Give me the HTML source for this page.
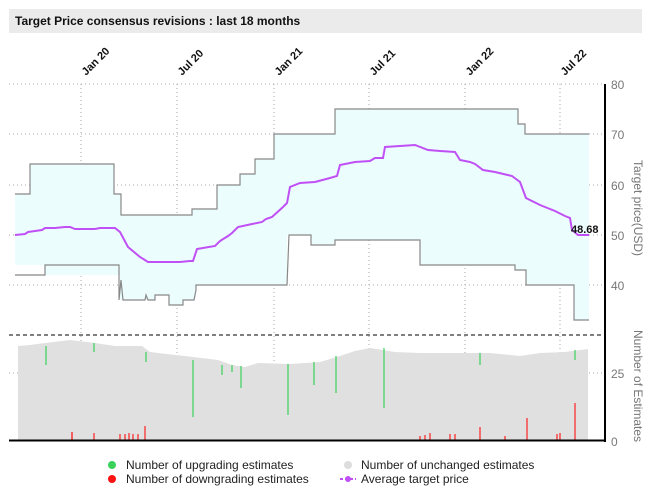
<!DOCTYPE html><html><head><style>body{margin:0;background:#fff;font-family:"Liberation Sans",sans-serif}</style></head><body>
<svg width="651" height="492" xmlns="http://www.w3.org/2000/svg" font-family="Liberation Sans, sans-serif">
<rect x="9" y="9" width="633" height="24" fill="#ebebeb"/>
<text x="15" y="25" font-size="12" font-weight="bold" fill="#111">Target Price consensus revisions : last 18 months</text>
<g stroke="#aaa" stroke-dasharray="1,3" stroke-width="1">
<line x1="9" x2="604" y1="84" y2="84"/><line x1="9" x2="604" y1="134" y2="134"/><line x1="9" x2="604" y1="185" y2="185"/><line x1="9" x2="604" y1="235" y2="235"/><line x1="9" x2="604" y1="285" y2="285"/><line x1="9" x2="604" y1="373" y2="373"/>
<line x1="81" x2="81" y1="84" y2="440"/><line x1="177" x2="177" y1="84" y2="440"/><line x1="274" x2="274" y1="84" y2="440"/><line x1="369" x2="369" y1="84" y2="440"/><line x1="465" x2="465" y1="84" y2="440"/><line x1="560" x2="560" y1="84" y2="440"/>
</g>
<g font-size="11" font-weight="bold" fill="#111">
<text transform="translate(86,76) rotate(-45)">Jan 20</text>
<text transform="translate(182,76) rotate(-45)">Jul 20</text>
<text transform="translate(279,76) rotate(-45)">Jan 21</text>
<text transform="translate(374,76) rotate(-45)">Jul 21</text>
<text transform="translate(470,76) rotate(-45)">Jan 22</text>
<text transform="translate(565,76) rotate(-45)">Jul 22</text>
</g>
<polygon fill="#ecfdfd" points="15,194 30,194 30,164 114,164 114,194 121,194 121,215 192,215 192,209 217,209 217,185 240,185 240,174 255,174 255,159 274,159 274,134 335,134 335,109 518,109 518,124 525,124 525,134 589,134 589,320 574,320 574,285 526,285 526,270 515,270 515,265 420,265 420,240 335,240 335,245 311,245 311,235 287,235 287,285 196,285 196,295 194,300 183,300 183,305 169,305 169,295 155,295 155,300 145,300 145,300 120,300 120,275 45,275 45,265 15,265"/>
<polyline fill="none" stroke="#888" stroke-width="1.2" points="15,194 30,194 30,164 114,164 114,194 121,194 121,215 192,215 192,209 217,209 217,185 240,185 240,174 255,174 255,159 274,159 274,134 335,134 335,109 518,109 518,124 525,124 525,134 589,134"/>
<polyline fill="none" stroke="#888" stroke-width="1.2" points="15,275 45,275 45,265 119,265 119,300 121,280 123,300 145,300 146,295 148,300 155,300 155,295 169,295 169,305 183,305 183,300 194,300 196,290 196,285 287,285 289,235 311,235 311,245 335,245 335,240 420,240 420,265 515,265 515,270 526,270 526,285 574,285 574,320 589,320"/>
<polyline fill="none" stroke="#c050f5" stroke-width="2" points="15,235 25,234 28,232 35,231 42,230 45,228 55,228 65,227 70,227 75,229 95,229 100,228 115,228 120,232 128,247 140,257 148,262 165,262 180,262 190,261 193,261 197,249 215,246 220,241 228,236 232,233 238,227 252,224 262,222 266,219 272,217 283,207 287,203 290,187 300,183 315,182 330,178 337,176 340,165 355,162 370,161 375,158 383,158 385,147 400,146 415,145 428,150 440,151 455,152 460,160 470,162 475,164 483,170 495,172 512,176 520,182 526,198 540,205 555,211 565,216 570,218 572,230 578,235 589,235"/>
<text x="571" y="233" font-size="11" font-weight="bold" fill="#111">48.68</text>
<line x1="9" x2="604" y1="335" y2="335" stroke="#000" stroke-dasharray="4,3"/>
<polygon fill="#e0e0e0" points="18,440 18,346 30,345 45,343 70,340 95,343 115,346 142,346 150,352 175,355 185,356 218,360 232,365 245,367 258,363 290,364 320,362 340,356 355,351 370,348 395,352 420,353 490,353 520,356 540,353 565,352 580,350 588,349 588,440"/>
<g stroke="#3ad15a" stroke-width="1.2">
<line x1="46" x2="46" y1="346" y2="365"/><line x1="94" x2="94" y1="343" y2="352"/><line x1="146" x2="146" y1="352" y2="362"/><line x1="193" x2="193" y1="360" y2="417"/><line x1="222" x2="222" y1="365" y2="375"/><line x1="232" x2="232" y1="365" y2="372"/><line x1="241" x2="241" y1="366" y2="388"/><line x1="288" x2="288" y1="364" y2="415"/><line x1="314" x2="314" y1="362" y2="385"/><line x1="336" x2="336" y1="356" y2="393"/><line x1="384" x2="384" y1="348" y2="408"/><line x1="480" x2="480" y1="353" y2="365"/><line x1="575" x2="575" y1="350" y2="360"/>
</g>
<g stroke="#f22" stroke-width="1.2">
<line x1="72" x2="72" y1="440" y2="432"/><line x1="94" x2="94" y1="440" y2="433"/><line x1="120" x2="120" y1="440" y2="434"/><line x1="125" x2="125" y1="440" y2="434"/><line x1="129" x2="129" y1="440" y2="433"/><line x1="133" x2="133" y1="440" y2="434"/><line x1="138" x2="138" y1="440" y2="434"/><line x1="145" x2="145" y1="440" y2="426"/><line x1="72" x2="72" y1="440" y2="432"/><line x1="425" x2="425" y1="440" y2="435"/><line x1="430" x2="430" y1="440" y2="433"/><line x1="455" x2="455" y1="440" y2="434"/><line x1="450" x2="450" y1="440" y2="434"/><line x1="480" x2="480" y1="440" y2="427"/><line x1="527" x2="527" y1="440" y2="418"/><line x1="557" x2="557" y1="440" y2="434"/><line x1="575" x2="575" y1="440" y2="403"/><line x1="420" x2="420" y1="440" y2="436"/><line x1="505" x2="505" y1="440" y2="436"/><line x1="560" x2="560" y1="440" y2="433"/>
</g>
<line x1="9" x2="606" y1="440.5" y2="440.5" stroke="#000" stroke-width="2"/>
<line x1="605" x2="605" y1="84" y2="442" stroke="#000" stroke-width="2"/>
<g font-size="12" fill="#777">
<text x="611" y="89">80</text><text x="611" y="139">70</text><text x="611" y="190">60</text><text x="611" y="240">50</text><text x="611" y="290">40</text><text x="611" y="378">25</text><text x="611" y="446">0</text>
<text transform="translate(634,160) rotate(90)">Target price(USD)</text>
<text transform="translate(634,330) rotate(90)">Number of Estimates</text>
</g>
<g font-size="12" fill="#222">
<circle cx="112" cy="465" r="4" fill="#3ad15a"/><text x="126" y="469">Number of upgrading estimates</text>
<circle cx="112" cy="479" r="4" fill="#f11"/><text x="126" y="483">Number of downgrading estimates</text>
<circle cx="348" cy="465" r="4" fill="#ddd"/><text x="361" y="469">Number of unchanged estimates</text>
<line x1="340" x2="356" y1="479" y2="479" stroke="#c050f5" stroke-width="2" stroke-dasharray="3,2"/><circle cx="348" cy="479" r="3" fill="#c050f5"/><text x="361" y="483">Average target price</text>
</g>
</svg></body></html>
